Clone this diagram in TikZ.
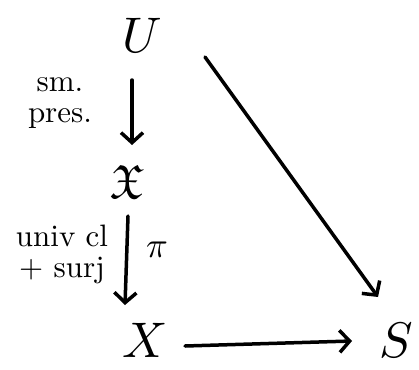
\documentclass[tikz,border=0pt]{standalone}
\usepackage{graphicx}
\usepackage{amssymb}
\usetikzlibrary{arrows.meta}
\newcommand{\bigobj}[1]{\scalebox{5.0}{$#1$}}
\newcommand{\biglab}[1]{\scalebox{3.1}{#1}}
\begin{document}
\begin{tikzpicture}[x=1pt,y=-1pt,
  obj/.style={inner sep=0pt},
  lab/.style={inner sep=0pt},
  arr/.style={line width=3.5pt,line cap=round,-{Straight Barb[length=10pt,width=22pt,line width=3.5pt]}}]
\useasboundingbox (0,0) rectangle (419,369);
\node[obj] (U) at (142,35) {\bigobj{U}};
\node[obj] (F) at (127,182) {\scalebox{4.8}{$\mathfrak{X}$}};
\node[obj] (X) at (145,340) {\bigobj{X}};
\node[obj] (S) at (396,340) {\bigobj{S}};
\coordinate (ua) at (132,80);
\coordinate (ub) at (132,145);
\draw[arr] (ua) -- (ub);
\coordinate (fa) at (128,216);
\coordinate (fb) at (125,305);
\draw[arr] (fa) -- (fb);
\coordinate (da) at (205,57);
\coordinate (db) at (378,297);
\draw[arr] (da) -- (db);
\coordinate (xa) at (185,346);
\coordinate (xb) at (352,341);
\draw[arr] (xa) -- (xb);
\node[lab] (l1) at (60,100) {\biglab{\begin{tabular}{@{}c@{}}sm.\\[-2pt]pres.\end{tabular}}};
\node[lab] (l2) at (62,255) {\biglab{\begin{tabular}{@{}c@{}}univ cl\\[-2pt]+ surj\end{tabular}}};
\node[obj] (pi) at (157,250) {\scalebox{3.6}{$\pi$}};
\end{tikzpicture}
\end{document}
